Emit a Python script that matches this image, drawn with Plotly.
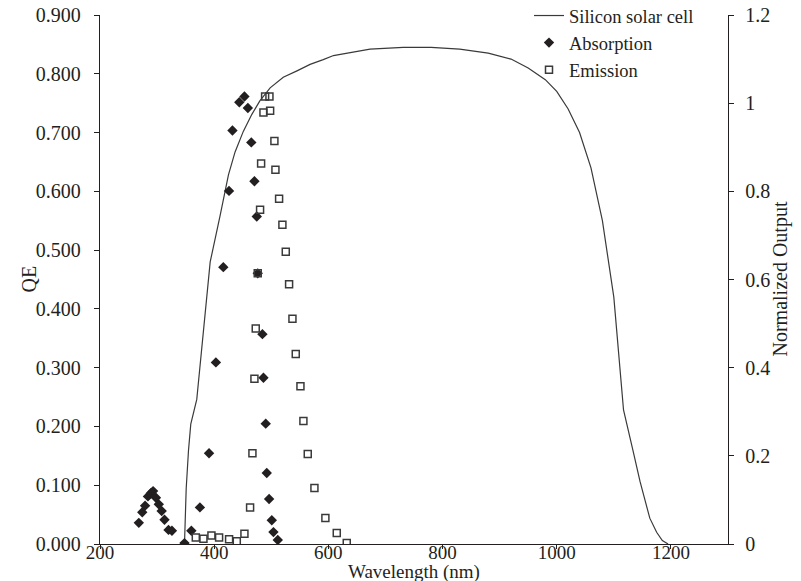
import plotly.graph_objects as go

# Silicon solar cell QE (left axis)
solar_wl = [348, 351, 355, 359, 369.5, 381, 393, 410, 425, 436.6, 451, 466, 480, 498, 521, 545,
            568, 591, 609, 626, 673, 731, 780, 830, 880, 920, 950, 980, 1000, 1020, 1040, 1060,
            1080, 1100, 1117, 1134, 1146, 1163, 1175, 1185, 1195]
solar_qe = [0.0, 0.095, 0.159, 0.204, 0.246, 0.365, 0.480, 0.557, 0.628, 0.667, 0.702, 0.731,
            0.754, 0.776, 0.794, 0.805, 0.816, 0.824, 0.831, 0.834, 0.842, 0.845, 0.845, 0.842,
            0.835, 0.825, 0.810, 0.790, 0.770, 0.740, 0.700, 0.640, 0.550, 0.420, 0.228, 0.157,
            0.106, 0.044, 0.020, 0.006, 0.0]

# Absorption (normalized, right axis)
abs_wl = [268, 274, 279, 284, 289, 293, 298, 303, 308, 313, 320, 326, 348, 360, 375, 391, 403,
          416, 426, 432, 444, 453, 459, 465, 470.5, 474.6, 476.3, 484.5, 486.3, 490.3, 492.1,
          496.2, 500.9, 503.8, 511.4]
abs_n = [0.048, 0.072, 0.087, 0.108, 0.115, 0.120, 0.105, 0.090, 0.075, 0.055, 0.032, 0.030,
         0.002, 0.030, 0.083, 0.206, 0.412, 0.628, 0.801, 0.938, 1.002, 1.015, 0.989, 0.911,
         0.823, 0.743, 0.614, 0.476, 0.377, 0.273, 0.161, 0.102, 0.054, 0.027, 0.009]

# Emission (normalized, right axis)
em_wl = [367.8, 381.2, 395.2, 408.6, 426.1, 439.6, 453, 462.9, 467, 470.5, 472.8, 476.3, 480.4,
         482.2, 486.3, 489.2, 496.8, 498, 505.5, 507.3, 513.7, 519.5, 525.4, 531.2, 537.1,
         542.9, 551.1, 556.3, 563.9, 575.6, 594.8, 614.7, 632.2]
em_n = [0.015, 0.012, 0.019, 0.015, 0.011, 0.006, 0.023, 0.083, 0.206, 0.375, 0.489, 0.614,
        0.758, 0.863, 0.979, 1.015, 1.015, 0.983, 0.914, 0.849, 0.783, 0.724, 0.663, 0.589,
        0.511, 0.431, 0.358, 0.279, 0.204, 0.127, 0.059, 0.025, 0.002]

x_ticks = [200, 400, 600, 800, 1000, 1200]
left_ticks = [0, 0.1, 0.2, 0.3, 0.4, 0.5, 0.6, 0.7, 0.8, 0.9]
left_text = ["0.000", "0.100", "0.200", "0.300", "0.400", "0.500", "0.600", "0.700", "0.800", "0.900"]
right_ticks = [0, 0.2, 0.4, 0.6, 0.8, 1.0, 1.2]
right_text = ["0", "0.2", "0.4", "0.6", "0.8", "1", "1.2"]

INK = "#231f20"
FONT = "Liberation Serif"
TICK_SIZE = 20
TITLE_SIZE = 19

W, H = 801, 581
ML, MR, MT, MB = 100, 73, 15, 37

fig = go.Figure()
fig.add_trace(go.Scatter(x=solar_wl, y=solar_qe, mode="lines", name="Silicon solar cell",
                         line=dict(color="#3a3a3a", width=1.2), yaxis="y"))
fig.add_trace(go.Scatter(x=abs_wl, y=abs_n, mode="markers", name="Absorption",
                         marker=dict(symbol="diamond", size=8, color=INK), yaxis="y2"))
fig.add_trace(go.Scatter(x=em_wl, y=em_n, mode="markers", name="Emission",
                         marker=dict(symbol="square-open", size=7, color="#3a3a3a",
                                     line=dict(width=1.5, color="#3a3a3a")), yaxis="y2"))

axis_common = dict(showgrid=False, zeroline=False, showline=True, linecolor=INK, linewidth=1.3,
                   tickcolor=INK, automargin=False,
                   tickfont=dict(family=FONT, size=TICK_SIZE, color=INK))

plot_w = W - ML - MR
plot_h = H - MT - MB

def px_x(px):
    return (px - ML) / plot_w

def px_y(py):
    return (H - MB - py) / plot_h

title_font = dict(family=FONT, size=TITLE_SIZE, color=INK)
annotations = [
    dict(text="QE", x=px_x(28), y=px_y(279.5), xref="paper", yref="paper", showarrow=False,
         textangle=-90, font=dict(family=FONT, size=20, color=INK),
         xanchor="center", yanchor="middle"),
    dict(text="Wavelength (nm)", x=px_x(414), y=px_y(572), xref="paper", yref="paper",
         showarrow=False, font=title_font, xanchor="center", yanchor="middle"),
    dict(text="Normalized Output", x=px_x(780), y=px_y(279.5), xref="paper", yref="paper",
         showarrow=False, textangle=-90, font=dict(family=FONT, size=20, color=INK),
         xanchor="center", yanchor="middle"),
]

x_axis_style = dict(axis_common)
x_axis_style["tickfont"] = dict(family=FONT, size=19, color=INK)

fig.update_layout(
    width=W, height=H,
    margin=dict(l=ML, r=MR, t=MT, b=MB, autoexpand=False),
    paper_bgcolor="white", plot_bgcolor="white",
    font=dict(family=FONT, size=TICK_SIZE, color=INK),
    showlegend=True,
    legend=dict(x=px_x(529), y=px_y(-3), xanchor="left", yanchor="top", bgcolor="rgba(0,0,0,0)",
                font=dict(family=FONT, size=18.5, color=INK), tracegroupgap=0),
    annotations=annotations,
    xaxis=dict(range=[200, 1300], tickvals=x_ticks, ticks="outside", ticklen=4,
               ticklabelstandoff=-13, **x_axis_style),
    yaxis=dict(range=[0, 0.9], tickvals=left_ticks, ticktext=left_text, ticks="outside", ticklen=5,
               ticklabelstandoff=9, **axis_common),
    yaxis2=dict(range=[0, 1.2], tickvals=right_ticks, ticktext=right_text, overlaying="y",
                side="right", anchor="x", ticks="outside", ticklen=5, ticklabelstandoff=7,
                **axis_common),
    yaxis3=dict(range=[0, 1.2], tickvals=right_ticks, overlaying="y", side="right", anchor="x",
                ticks="inside", ticklen=5, showticklabels=False, showgrid=False, zeroline=False,
                showline=False, tickcolor=INK),
)

fig.write_html("out.html", config={"displayModeBar": False},
               post_script="document.body.style.margin='0';document.body.style.overflow='hidden';")
